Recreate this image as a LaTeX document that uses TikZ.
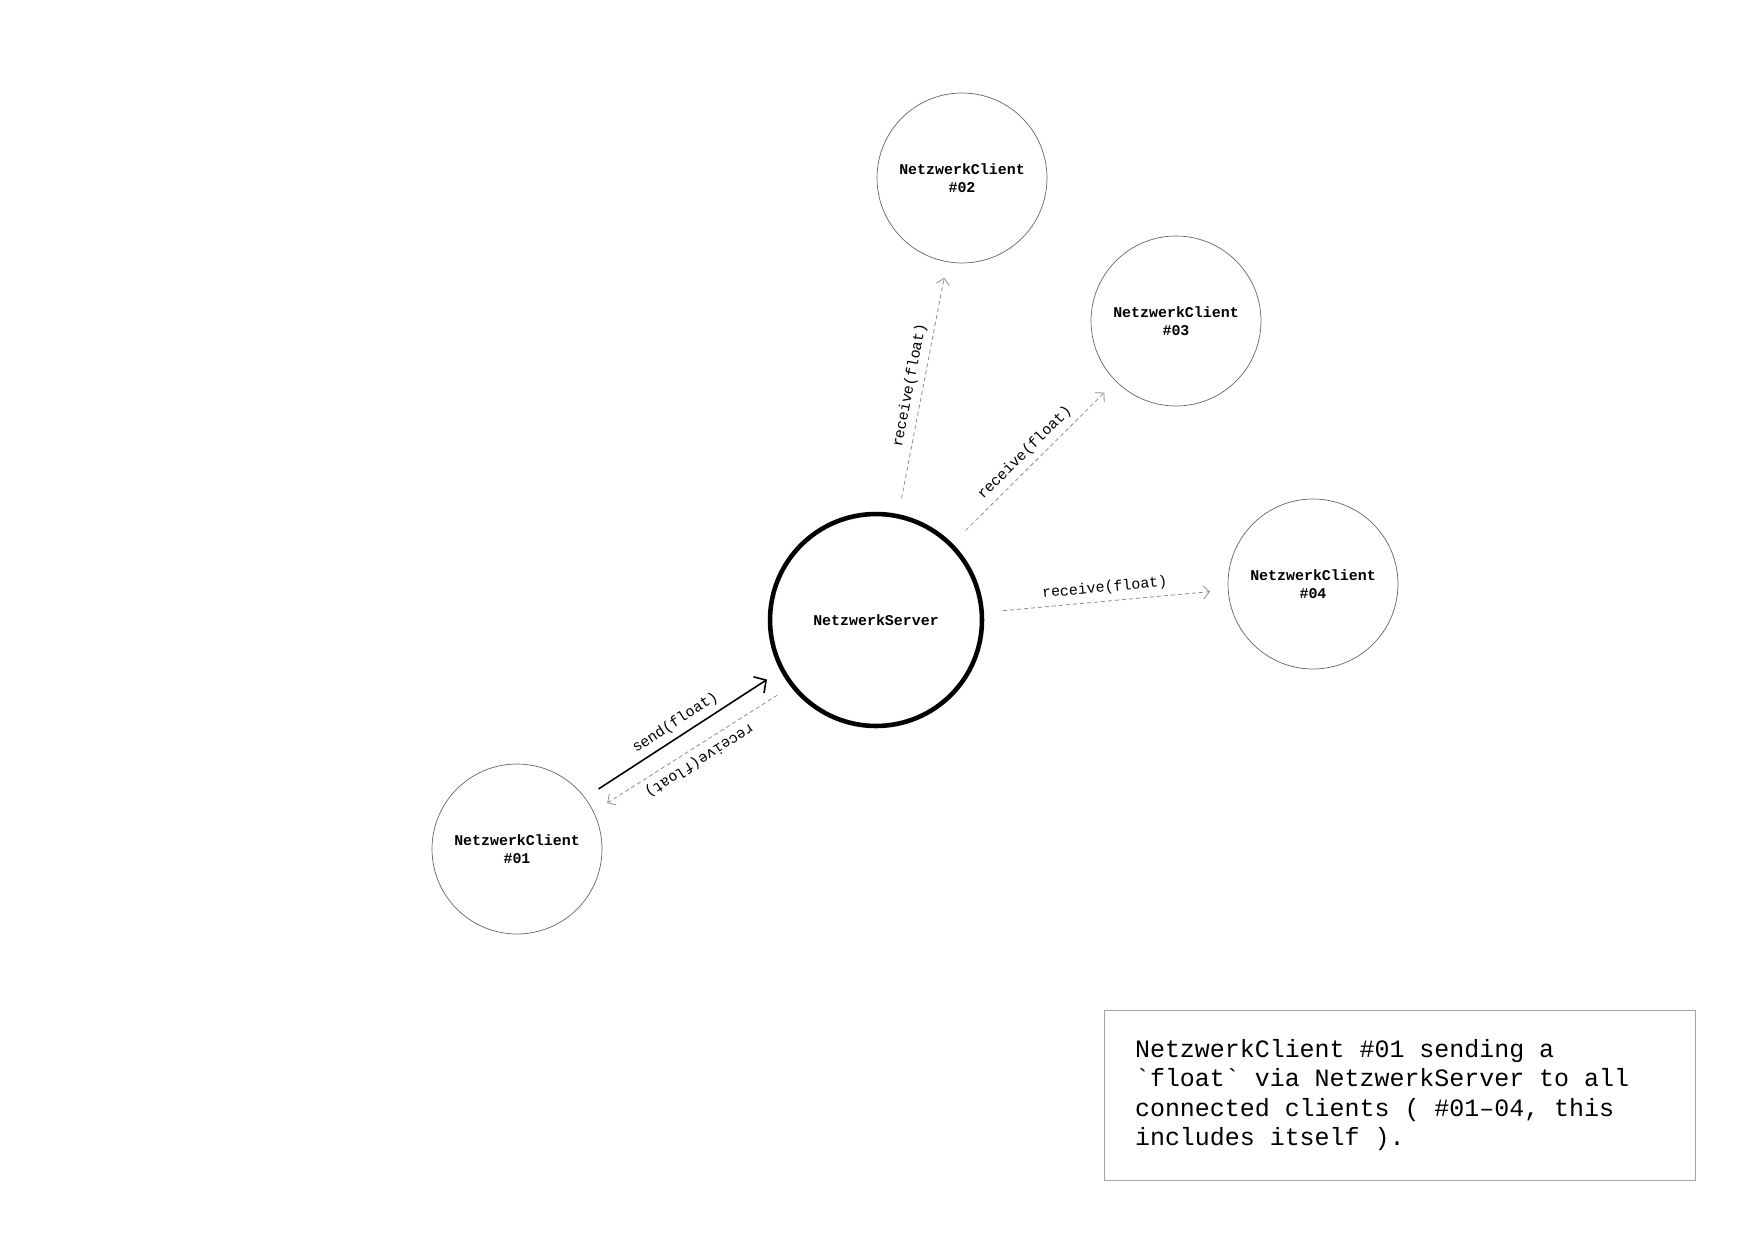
\documentclass[tikz,border=0pt]{standalone}
\usepackage{fontspec}
\setmonofont{Liberation Mono}
\usetikzlibrary{arrows.meta, positioning}

\begin{document}
\begin{tikzpicture}[x=0.02cm, y=-0.02cm,
        font=\ttfamily,
        every edge/.style={draw=black, shorten <=0.32cm, shorten >=0.32cm},
        client/.style={circle, draw=black!60, line width=0.4pt, minimum size=3.4cm, inner sep=0pt, align=center, font=\ttfamily\bfseries\fontsize{8.5}{10.2}\selectfont},
        server/.style={circle, draw=black, line width=2.6pt, minimum size=4.24cm, inner sep=0pt, font=\ttfamily\bfseries\fontsize{8.5}{10.2}\selectfont},
        sendline/.style={draw=black, line width=0.9pt, -{Straight Barb[length=5pt, width=11pt, line width=0.9pt]}},
        recvline/.style={draw=black!45, line width=0.45pt, dash pattern=on 2.3pt off 1.7pt, -{Straight Barb[length=3.5pt, width=7.5pt, line width=0.45pt]}},
        msg/.style={font=\ttfamily\fontsize{8.5}{10}\selectfont, sloped, above, text=black},
        infobox/.style={draw=black!35, line width=0.5pt, minimum height=3.4cm, text width=10.58cm, inner xsep=0.62cm, font=\notefont}]

        \newcommand\notefont{\ttfamily\fontsize{14.2}{16.7}\selectfont}
        \newcommand\wsp{\hspace{0.6em}}

        \useasboundingbox (0,0) rectangle (1754,1241);

        \node[server] (srv) at (876,620) {NetzwerkServer};

        \node[client] (c01) at (517,849) {NetzwerkClient\\\#01};
        \node[client] (c02) at (962,178) {NetzwerkClient\\\#02};
        \node[client] (c03) at (1176,321) {NetzwerkClient\\\#03};
        \node[client] (c04) at (1313,584) {NetzwerkClient\\\#04};

        \path (c01.37) edge [sendline] node [msg] {send(float)} (srv.208.7);
        \path (srv.218) edge [recvline] node [msg, allow upside down] {receive(float)} (c01.26.8);
        \path (srv.78.7) edge [recvline] node [msg] {receive(float)} (c02.260.3);
        \path (srv.45) edge [recvline, shorten <=0.37cm] node [msg] {receive(float)} (c03.225.4);
        \path (srv.4.6) edge [recvline, shorten <=0.38cm, shorten >=0.36cm] node [msg] {receive(float)} (c04.184.4);

        \node[infobox] (note) at (1399.5,1095) {NetzwerkClient\wsp\#01\wsp sending\wsp a\\
            \textasciigrave float\textasciigrave\wsp via\wsp NetzwerkServer\wsp to\wsp all\\
            connected\wsp clients\wsp (\wsp\#01–04,\wsp this\\
            includes\wsp itself\wsp ).};

\end{tikzpicture}
\end{document}
